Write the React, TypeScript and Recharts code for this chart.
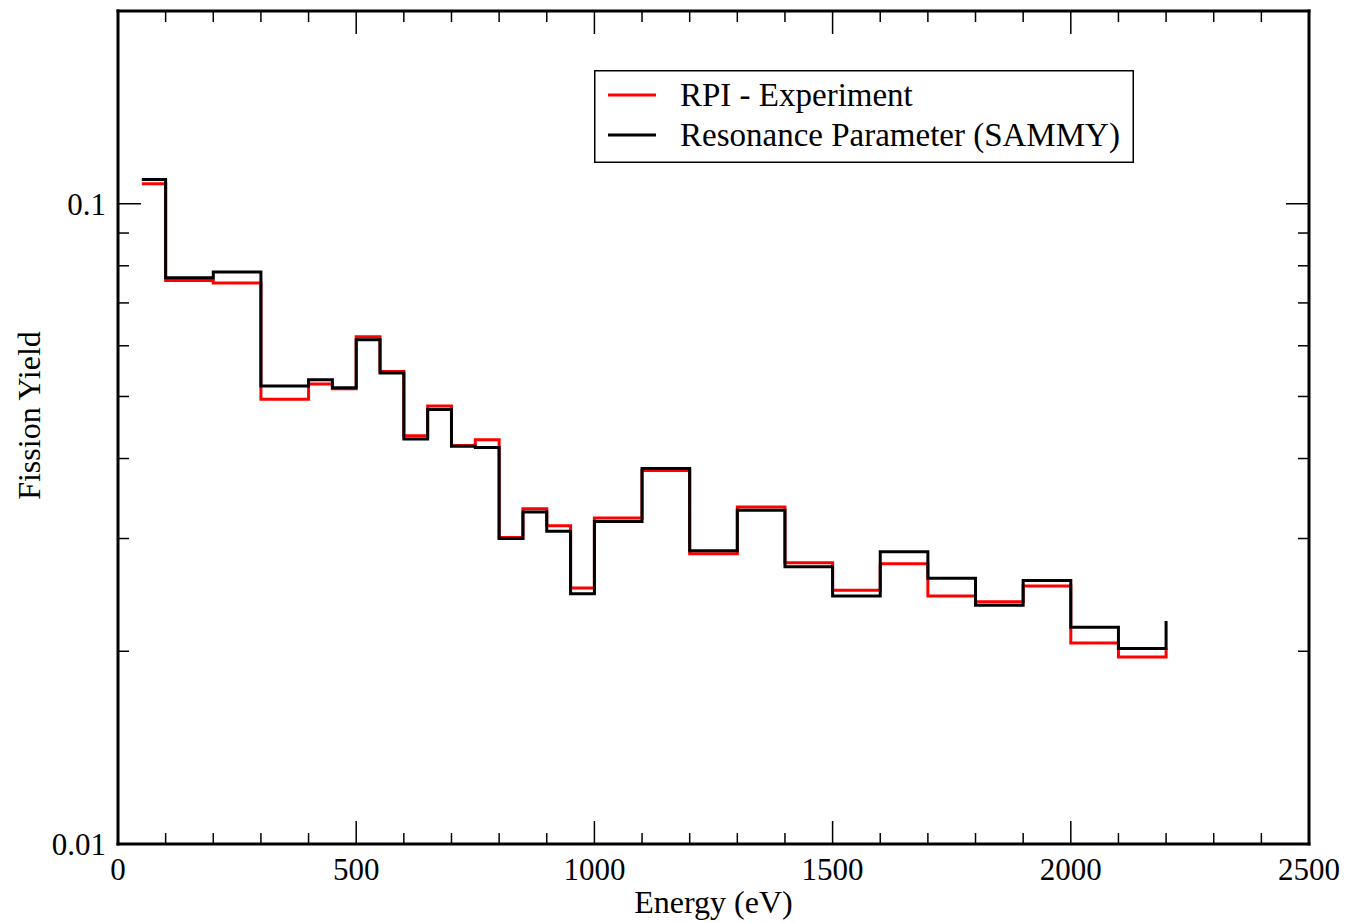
import React from 'react';
import {LineChart, Line, XAxis, YAxis, Legend} from 'recharts';

// bin left edges (eV); last point closes the final bin
const energy = [
    50, 100, 200, 300, 400, 450, 500, 550, 600, 650, 700, 750, 800, 850, 900, 950,
    1000, 1100, 1200, 1300, 1400, 1500, 1600, 1700, 1800, 1900, 2000, 2100, 2200,
];

const rpiExperiment = [
    0.1075, 0.0759, 0.0752, 0.0495, 0.0523, 0.0514, 0.0620, 0.0547, 0.0434, 0.0483,
    0.0419, 0.0428, 0.0301, 0.0334, 0.0314, 0.0251, 0.0323, 0.0383, 0.0284, 0.0336,
    0.0275, 0.0249, 0.0274, 0.0244, 0.0239, 0.0253, 0.0206, 0.0196, 0.0202,
];

const sammyYield = [
    0.1091, 0.0766, 0.0782, 0.0519, 0.0531, 0.0516, 0.0613, 0.0544, 0.0429, 0.0477,
    0.0418, 0.0416, 0.0300, 0.0330, 0.0308, 0.0246, 0.0319, 0.0386, 0.0287, 0.0332,
    0.0271, 0.0244, 0.0286, 0.0260, 0.0236, 0.0258, 0.0218, 0.0202, 0.0223,
];

const xTicks = [
    0, 100, 200, 300, 400, 500, 600, 700, 800, 900, 1000, 1100, 1200, 1300, 1400,
    1500, 1600, 1700, 1800, 1900, 2000, 2100, 2200, 2300, 2400, 2500,
];
const xLabels = [0, 500, 1000, 1500, 2000, 2500];

const yTicks = [0.01, 0.02, 0.03, 0.04, 0.05, 0.06, 0.07, 0.08, 0.09, 0.1];
const yLabels = [0.01, 0.1];

const data = energy.map((e, i) => ({
    energy: e,
    rpi: rpiExperiment[i],
    sammy: sammyYield[i],
}));

const FONT = '"Liberation Serif", "Times New Roman", serif';
const frame = {stroke: '#000', strokeWidth: 3, strokeLinecap: 'square' as const};

const BottomTick = (props: any) => {
    const {x, y, payload} = props;
    const major = xLabels.includes(payload.value);
    return (
        <g>
            <line x1={x} x2={x} y1={y} y2={y - (major ? 23 : 11)} stroke="#000" strokeWidth={1.5}/>
            {major && (
                <text x={x} y={y + 36} textAnchor="middle" fontFamily={FONT} fontSize={31} fill="#000">
                    {payload.value}
                </text>
            )}
        </g>
    );
};

const TopTick = (props: any) => {
    const {x, y, payload} = props;
    const major = xLabels.includes(payload.value);
    return <line x1={x} x2={x} y1={y} y2={y + (major ? 23 : 11)} stroke="#000" strokeWidth={1.5}/>;
};

const LeftTick = (props: any) => {
    const {x, y, payload} = props;
    const major = yLabels.includes(payload.value);
    return (
        <g>
            <line x1={x} x2={x + (major ? 23 : 11)} y1={y} y2={y} stroke="#000" strokeWidth={1.5}/>
            {major && (
                <text x={x - 12} y={y + 11} textAnchor="end" fontFamily={FONT} fontSize={31} fill="#000">
                    {payload.value}
                </text>
            )}
        </g>
    );
};

const RightTick = (props: any) => {
    const {x, y, payload} = props;
    const major = yLabels.includes(payload.value);
    return <line x1={x} x2={x - (major ? 23 : 11)} y1={y} y2={y} stroke="#000" strokeWidth={1.5}/>;
};

const XTitle = (props: any) => {
    const {x, y, width} = props.viewBox;
    return (
        <text x={x + width / 2} y={y + 69} textAnchor="middle" fontFamily={FONT} fontSize={32} fill="#000">
            Energy (eV)
        </text>
    );
};

const YTitle = (props: any) => {
    const {x, y, height} = props.viewBox;
    const cx = x + 32;
    const cy = y + height / 2 - 12;
    return (
        <text x={cx} y={cy} transform={`rotate(-90, ${cx}, ${cy})`} textAnchor="middle"
              fontFamily={FONT} fontSize={32} fill="#000">
            Fission Yield
        </text>
    );
};

const LegendBox = (props: any) => {
    const {payload} = props;
    return (
        <svg width={540} height={93} style={{display: 'block'}}>
            <rect x={0.75} y={0.75} width={538.5} height={91.5} fill="#fff" stroke="#000" strokeWidth={1.5}/>
            {(payload || []).map((item: any, i: number) => (
                <g key={item.value}>
                    <line x1={14} x2={62} y1={25 + i * 40} y2={25 + i * 40} stroke={item.color} strokeWidth={3}/>
                    <text x={86} y={36 + i * 40} fontFamily={FONT} fontSize={33} fill="#000">
                        {item.value}
                    </text>
                </g>
            ))}
        </svg>
    );
};

export default function App() {
    return (
        <LineChart width={1340} height={915} data={data} margin={{top: 2, right: 38, bottom: 0, left: 0}}>
            <XAxis dataKey="energy" type="number" domain={[0, 2500]} ticks={xTicks} interval={0}
                   height={79} tickSize={0} tickMargin={0} axisLine={frame} tickLine={false}
                   tick={<BottomTick/>} label={<XTitle/>}/>
            <XAxis xAxisId="top" dataKey="energy" type="number" domain={[0, 2500]} ticks={xTicks}
                   interval={0} orientation="top" height={1} tickSize={0} tickMargin={0}
                   axisLine={frame} tickLine={false} tick={<TopTick/>}/>
            <YAxis scale="log" domain={[0.01, 0.2]} allowDataOverflow ticks={yTicks} interval={0}
                   width={110} tickSize={0} tickMargin={0} axisLine={frame} tickLine={false}
                   tick={<LeftTick/>} label={<YTitle/>}/>
            <YAxis yAxisId="right" orientation="right" scale="log" domain={[0.01, 0.2]} allowDataOverflow
                   ticks={yTicks} interval={0} width={1} tickSize={0} tickMargin={0} axisLine={frame}
                   tickLine={false} tick={<RightTick/>}/>
            <Legend layout="vertical" align="center" verticalAlign="middle" content={<LegendBox/>}
                    wrapperStyle={{left: 586, top: 62, width: 540, height: 93}}/>
            <Line type="stepAfter" dataKey="rpi" name="RPI - Experiment" stroke="#ff0000" strokeWidth={3}
                  dot={false} isAnimationActive={false}/>
            <Line type="stepAfter" dataKey="sammy" name="Resonance Parameter (SAMMY)" stroke="#000000"
                  strokeWidth={3} dot={false} isAnimationActive={false}/>
        </LineChart>
    );
}
